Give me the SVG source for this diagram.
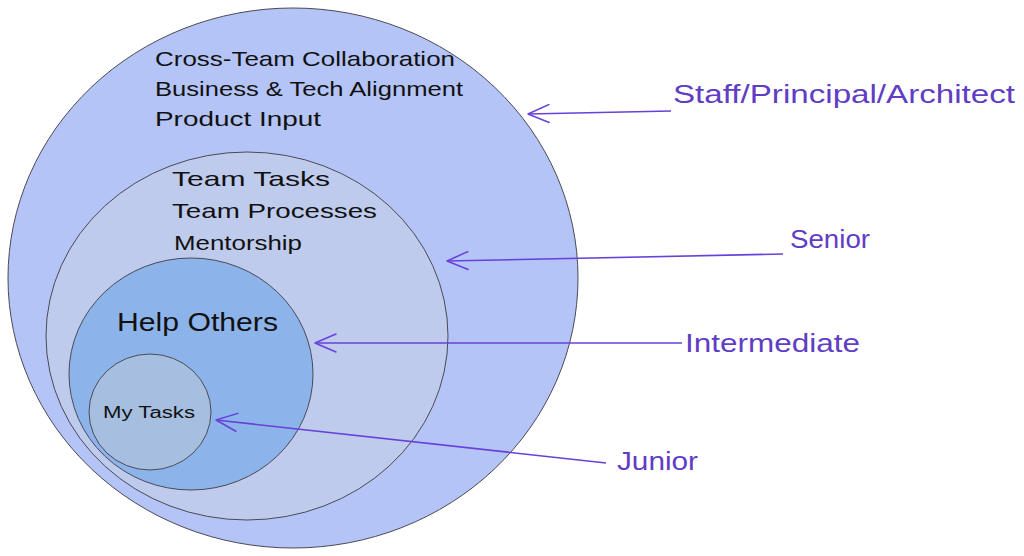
<svg xmlns="http://www.w3.org/2000/svg" width="1024" height="556" viewBox="0 0 1024 556">
<defs>
<marker id="arr" viewBox="0 0 24 20" refX="22" refY="10" markerWidth="24" markerHeight="20" markerUnits="userSpaceOnUse" orient="auto">
<path d="M1 1 L22 10 L1 19" fill="none" stroke="#6741d9" stroke-width="1.5" stroke-linecap="round" stroke-linejoin="round"/>
</marker>
<style>
.c{stroke:#4a4a55;stroke-width:1}
.t{font-family:"Liberation Sans","Noto Sans",sans-serif;fill:#111}
.l{font-family:"Liberation Sans","Noto Sans",sans-serif;fill:#5f3dc4;font-size:25px}
.a{fill:none;stroke:#6741d9;stroke-width:1.6;marker-end:url(#arr)}
</style>
</defs>
<rect width="1024" height="556" fill="#fff"/>
<g id="staff">
<ellipse class="c" cx="293" cy="278" rx="285" ry="270" fill="#b4c4f6"/>
<text class="t" font-size="21" x="155" y="66" textLength="300" lengthAdjust="spacingAndGlyphs">Cross-Team Collaboration</text>
<text class="t" font-size="21" x="155" y="96" textLength="308" lengthAdjust="spacingAndGlyphs">Business &amp; Tech Alignment</text>
<text class="t" font-size="21" x="155" y="126" textLength="166" lengthAdjust="spacingAndGlyphs">Product Input</text>
</g>
<g id="senior">
<ellipse class="c" cx="247" cy="336" rx="201" ry="184" fill="#bfcbec"/>
<text class="t" font-size="21" x="172" y="186" textLength="158" lengthAdjust="spacingAndGlyphs">Team Tasks</text>
<text class="t" font-size="21" x="172" y="218" textLength="205" lengthAdjust="spacingAndGlyphs">Team Processes</text>
<text class="t" font-size="21" x="174" y="250" textLength="128" lengthAdjust="spacingAndGlyphs">Mentorship</text>
</g>
<g id="intermediate">
<ellipse class="c" cx="191" cy="374" rx="122" ry="116" fill="#8db4ea"/>
<text class="t" font-size="25" x="117" y="331" textLength="161" lengthAdjust="spacingAndGlyphs">Help Others</text>
</g>
<g id="junior">
<ellipse class="c" cx="150" cy="412" rx="61" ry="58" fill="#a6bfe0"/>
<text class="t" font-size="16" x="103" y="418" textLength="92" lengthAdjust="spacingAndGlyphs">My Tasks</text>
</g>
<g id="labels">
<text class="l" x="673" y="103" textLength="342" lengthAdjust="spacingAndGlyphs">Staff/Principal/Architect</text>
<text class="l" x="790" y="248" textLength="80" lengthAdjust="spacingAndGlyphs">Senior</text>
<text class="l" x="685" y="352" textLength="175" lengthAdjust="spacingAndGlyphs">Intermediate</text>
<text class="l" x="617" y="470" textLength="81" lengthAdjust="spacingAndGlyphs">Junior</text>
</g>
<g id="connectors">
<path class="a" d="M671 111 L528 114"/>
<path class="a" d="M783 254 L447 261"/>
<path class="a" d="M682 343 L315 343"/>
<path class="a" d="M606 463 L216 420"/>
</g>
</svg>
